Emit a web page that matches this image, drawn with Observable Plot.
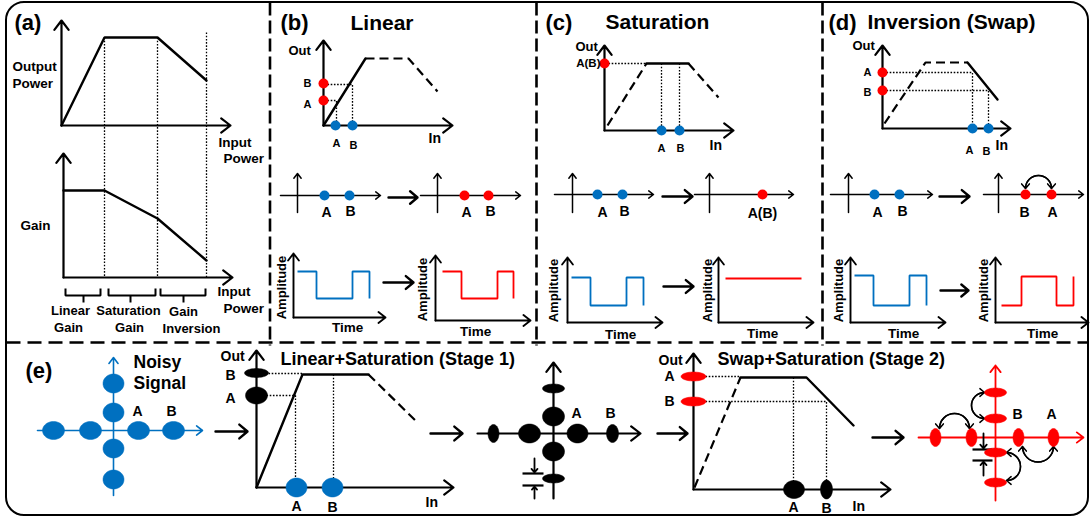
<!DOCTYPE html>
<html><head><meta charset="utf-8">
<script src="https://cdn.jsdelivr.net/npm/d3@7"></script>
<script src="https://cdn.jsdelivr.net/npm/@observablehq/plot@0.6"></script>
<style>body{margin:0;background:#fff}</style>
</head><body><div id="chart"></div>
<script>
const BLUE = "#0070C0", RED = "#FF0000";

// ---------- outline & panel dividers ----------
const outline = [{x1: 6, y1: 2, x2: 1088, y2: 515}];
const vDividers = [[269.5, 2, 269.5, 345], [536, 2, 536, 345], [822, 2, 822, 345]];
const hDividers = [[6, 342, 1088, 342]];

// ---------- curves ----------
const solidCurves = [
  [[61,125],[104,37],[157,37],[206,80]],          // (a) output power
  [[63,190],[104,190],[157,218],[206,260]],       // (a) gain
  [[323,125],[365,58]],                           // (b) linear part
  [[646,63],[688,63]],                            // (c) saturation part
  [[967,62],[997,99]],                            // (d) inversion part
  [[256,487],[302,374],[368,374]],                // (e) stage 1
  [[740,377],[806,377],[853,425]]                 // (e) stage 2
];
const dashedCurves = [
  [[365,58],[408,58],[437,91]],
  [[607,125],[646,63]],
  [[688,63],[718,97]],
  [[884,123],[925,62],[967,62]],
  [[368,374],[418,423]],
  [[694,487],[740,377]]
];
const dottedGuides = [
  [[104,37],[104,277]], [[157,37],[157,277]], [[206,32],[206,277]],
  [[327,100],[336,100],[336,121]], [[327,84],[352,84],[352,121]],
  [[608,63],[646,63]], [[661,63],[661,126]], [[679,63],[679,126]],
  [[886,72],[972,72],[972,124]], [[886,90],[988,90],[988,124]],
  [[268,373],[302,373]], [[266,395],[295,395],[295,487]], [[333,374],[333,487]],
  [[705,376],[740,376]], [[705,401],[826,401],[826,489]], [[793,377],[793,489]]
];
// regime brackets under the gain plot
const brackets = [
  [[65,288],[65,295],[100,295],[100,288]], [[83,295],[83,302]],
  [[108,288],[108,295],[155,295],[155,288]], [[130,295],[130,302]],
  [[160,288],[160,295],[205,295],[205,288]], [[183,295],[183,302]]
];
const blueWaves = [
  [[297,271],[316,271],[316,298],[352,298],[352,271],[369,271],[369,298]],
  [[571,277],[590,277],[590,305],[626,305],[626,277],[643,277],[643,305]],
  [[854,275],[873,275],[873,305],[909,305],[909,275],[926,275],[926,305]]
];
const redWaves = [
  [[442,271],[461,271],[461,298],[497,298],[497,271],[513,271],[513,298]],
  [[725,278],[801,278]],
  [[1001,305],[1021,305],[1021,276],[1056,276],[1056,305],[1073,305],[1073,276]]
];
const markerBars = [[[522,473],[543,473]], [[522,485],[543,485]], [[972,449],[992,449]], [[972,460],[992,460]]];

// ---------- axes (with arrow heads) ----------
const mainAxes = [
  [61,125,61,20],[61,125,230,125],[63,277,63,153],[63,277,232,277],
  [323,125,323,40],[323,125,452,125],
  [604,130,604,45],[604,130,733,130],
  [882,128,882,45],[882,128,1010,128],
  [256,487,256,350],[256,487,453,487],
  [553,498,553,362],[477,433,640,433],
  [693,489,693,353],[693,489,890,489]
];
const waveAxes = [
  [293,317,293,253],[293,317,385,317],[435,320,435,255],[435,320,530,320],
  [567,322,567,257],[567,322,662,322],[718,322,718,257],[718,322,813,322],
  [850,322,850,257],[850,322,945,322],[995,322,995,257],[995,322,1088,322]
];
const constAxes = [
  [280,195,380,195],[297,212,297,173],[420,195,520,195],[437,212,437,173],
  [554,194,653,194],[572,212,572,173],[694,194,793,194],[709,212,709,173],
  [830,194,932,194],[848,212,848,173],[983,194,1083,194],[998,212,998,173]
];
const blueAxes = [[113,495,113,357],[37,430,202,430]];
const redAxes = [[995,500,995,365],[918,437,1083,437]];
const flowArrows = [
  [388,197,417,197],[383,282,413,282],[662,196,692,196],[663,286,693,286],
  [939,196,969,196],[940,290,968,290],
  [215,431,247,431],[430,433,462,433],[657,433,687,433],[872,437,903,437]
];
const markerArrows = [[534,458,534,472],[534,498,534,486],[983,433,983,448],[983,475,983,461]];
// curved double-headed swap arrows, split by turning direction
const swapArcsCW = [[1025,188,1051,188],[939,428,969,428],[1006,452,1006,480]];
const swapArcsCCW = [[984,392,984,418],[1022,446,1053,446]];

// ---------- points ----------
const blueDots = [[335,125],[352,125],[324,195],[349,195],[661,130],[679,130],[597,194],[622,194],[972,128],[988,128],[874,194],[899,194]];
const redDots = [[323,83],[323,100],[464,195],[488,195],[604,63],[762,194],[882,72],[882,90],[1025,194],[1051,194]];
// ellipses: [cx, cy, rx, ry]
const blueEllipses = [
  [53,430,11,9],[90,430,11,9],[138,430,11,9],[173,430,11,9],
  [113,383,10.5,9.5],[113,412,10.5,9.5],[113,448,10.5,9.5],[113,479,10.5,9.5],
  [296,487,10.5,9.5],[332,487,10.5,9.5]
];
const blackEllipses = [
  [256,372.5,12,4.5],[256,395,11,8.5],
  [493,433,5.5,9],[529,433,11,9.5],[577,433,10.5,9.5],[612,433,6,9],
  [553,388,11,4.5],[553,416,11,9.5],[553,451,11,9.5],[553,478,11,4.5],
  [793.5,489,10.5,9],[826,489,6,9.5]
];
const redEllipses = [
  [693,376,12.5,4.5],[693,401,12.5,4.5],
  [935,437,5.5,9],[971,437,5.5,9],[1018,437,5.5,9],[1053,437,5.5,9],
  [995,392,11,4.5],[995,418,11,4.5],[995,452,11,4.5],[995,482,11,4.5]
];

// ---------- text ----------
const textStart = [
  ["(a)",14,22,22],["(b)",280,22,22],["(c)",545,22,22],["(d)",828,22,22],["(e)",25,370,22],
  ["Linear",350,23,21],["Saturation",605,22,21],["Inversion (Swap)",867,22,21],
  ["Output",12,66,13.5],["Power",12,83,13.5],["Input",218,142,13.5],["Power",223,158,13.5],
  ["Gain",20,225,13.5],["Input",217,291,13.5],["Power",223,308,13.5],
  ["Out",288,50,13],["In",428,138,14],["Out",575,46,13],["In",709,145,14],["Out",852,45,13],["In",995,145,14],
  ["Noisy",133,362,17.5],["Signal",133,383,17.5],["Out",220,356,14],
  ["Linear+Saturation (Stage 1)",280,359,18],["In",425,502,14],
  ["Out",658,360,14],["Swap+Saturation (Stage 2)",717,359,18],["In",852,506,14]
];
const textMiddle = [
  ["Linear",70,310,13],["Saturation",128,310,13],["Gain",183,311,13],
  ["Gain",68,327,13],["Gain",129,327,13],["Inversion",191,328,13],
  ["B",307,83,11],["A",307,104,11],["A",336,143,11],["B",353,145,11],
  ["A",326,212,14],["B",350,211,14],["A",466,212,14],["B",490,211,14],
  ["Time",347,327,13.5],["Time",475,331,13.5],
  ["A",661,148,11],["B",680,148,11],["A",602,212,14],["B",624,211,14],["A(B)",762,213,14],
  ["Time",620,334,13.5],["Time",762,333,13.5],
  ["A",867,72,11],["B",867,92,11],["A",969,150,11],["B",986,151,11],
  ["A",877,212,14],["B",902,211,14],["B",1024,212,14],["A",1052,212,14],
  ["Time",903,333,13.5],["Time",1042,333,13.5],
  ["A",137,411,14],["B",171,411,14],["B",230,375,14],["A",230,398,14],
  ["A",296,506,14],["B",332,507,14],["A",576,413,14],["B",610,413,14],
  ["A",669,376,14],["B",669,401,14],["A",793,507,14],["B",826,508,14],
  ["B",1017,414,14],["A",1051,414,14]
];
const textEnd = [["A(B)",600,63,11.5]];
const textVertical = [["Amplitude",281,287,13],["Amplitude",422,289,13],["Amplitude",553,290,13],
  ["Amplitude",707,290,13],["Amplitude",838,290,13],["Amplitude",983,290,13]];

// ---------- helpers ----------
const polyRows = polys => polys.flatMap((p, i) => p.map(([x, y]) => ({id: i, x, y})));
const segRows = segs => segs.map(([x1, y1, x2, y2]) => ({x1, y1, x2, y2}));
const ptRows = pts => pts.map(([x, y]) => ({x, y}));
const ellRows = list => list.flatMap(([cx, cy, rx, ry], i) =>
  d3.range(48).map(k => ({id: i, x: cx + rx * Math.cos(2 * Math.PI * k / 48), y: cy + ry * Math.sin(2 * Math.PI * k / 48)})));
const txtRows = list => list.map(([t, x, y, s]) => ({t, x, y, s}));

const line = (polys, o) => Plot.line(polyRows(polys), {x: "x", y: "y", z: "id", ...o});
const arrows = (segs, o) => Plot.arrow(segRows(segs), {x1: "x1", y1: "y1", x2: "x2", y2: "y2", ...o});
const revArrows = (segs, o) => Plot.arrow(segRows(segs), {x1: "x2", y1: "y2", x2: "x1", y2: "y1", ...o});
const ell = (list, fill) => Plot.line(ellRows(list), {x: "x", y: "y", z: "id", curve: "linear-closed", fill, stroke: fill, strokeWidth: 0.5});
const txt = (list, o) => Plot.text(txtRows(list), {x: "x", y: "y", text: "t", fontSize: d => d.s, fontWeight: "bold", fill: "black", ...o});
const arcStyle = {stroke: "black", strokeWidth: 1.5, headLength: 6, headAngle: 80};

const chart = Plot.plot({
  width: 1090, height: 520, margin: 0,
  x: {domain: [0, 1090], range: [0, 1090], axis: null},
  y: {domain: [0, 520], range: [0, 520], axis: null},
  style: {fontFamily: "'Liberation Sans', Arial, sans-serif", background: "#fff", overflow: "visible"},
  marks: [
    Plot.rect(outline, {x1: "x1", y1: "y1", x2: "x2", y2: "y2", rx: 18, fill: "none", stroke: "black", strokeWidth: 2}),
    Plot.link(segRows(vDividers), {x1: "x1", y1: "y1", x2: "x2", y2: "y2", stroke: "black", strokeWidth: 2.6, strokeDasharray: "13,5", strokeLinecap: "butt"}),
    Plot.link(segRows(hDividers), {x1: "x1", y1: "y1", x2: "x2", y2: "y2", stroke: "black", strokeWidth: 2.6, strokeDasharray: "14,7", strokeLinecap: "butt"}),
    line(dottedGuides, {stroke: "black", strokeWidth: 1.3, strokeDasharray: "1.6,1.6", strokeLinecap: "butt"}),
    line(solidCurves, {stroke: "black", strokeWidth: 2.4, strokeLinejoin: "miter"}),
    line(dashedCurves, {stroke: "black", strokeWidth: 2.2, strokeDasharray: "9,5", strokeLinecap: "butt", strokeLinejoin: "miter"}),
    line(brackets, {stroke: "black", strokeWidth: 2, strokeLinejoin: "miter", strokeLinecap: "butt"}),
    line(blueWaves, {stroke: BLUE, strokeWidth: 1.8, strokeLinejoin: "miter", strokeLinecap: "butt"}),
    line(redWaves, {stroke: RED, strokeWidth: 1.8, strokeLinejoin: "miter", strokeLinecap: "butt"}),
    line(markerBars, {stroke: "black", strokeWidth: 2.2, strokeLinecap: "butt"}),
    arrows(mainAxes, {stroke: "black", strokeWidth: 2.2, headLength: 8, headAngle: 75}),
    arrows(waveAxes, {stroke: "black", strokeWidth: 1.9, headLength: 7, headAngle: 75}),
    arrows(constAxes, {stroke: "black", strokeWidth: 1.5, headLength: 6, headAngle: 75}),
    arrows(blueAxes, {stroke: BLUE, strokeWidth: 1.6, headLength: 7, headAngle: 75}),
    arrows(redAxes, {stroke: RED, strokeWidth: 1.8, headLength: 7, headAngle: 75}),
    arrows(flowArrows, {stroke: "black", strokeWidth: 2.4, headLength: 9, headAngle: 80}),
    arrows(markerArrows, {stroke: "black", strokeWidth: 1.8, headLength: 6, headAngle: 80}),
    arrows(swapArcsCW, {bend: 90, ...arcStyle}),
    revArrows(swapArcsCW, {bend: -90, ...arcStyle}),
    arrows(swapArcsCCW, {bend: -90, ...arcStyle}),
    revArrows(swapArcsCCW, {bend: 90, ...arcStyle}),
    Plot.dot(ptRows(blueDots), {x: "x", y: "y", r: 5, fill: BLUE}),
    Plot.dot(ptRows(redDots), {x: "x", y: "y", r: 5, fill: RED}),
    ell(blueEllipses, BLUE),
    ell(blackEllipses, "black"),
    ell(redEllipses, RED),
    txt(textStart, {textAnchor: "start"}),
    txt(textMiddle, {textAnchor: "middle"}),
    txt(textEnd, {textAnchor: "end"}),
    txt(textVertical, {textAnchor: "middle", rotate: -90})
  ]
});
document.getElementById("chart").append(chart);
</script></body></html>
